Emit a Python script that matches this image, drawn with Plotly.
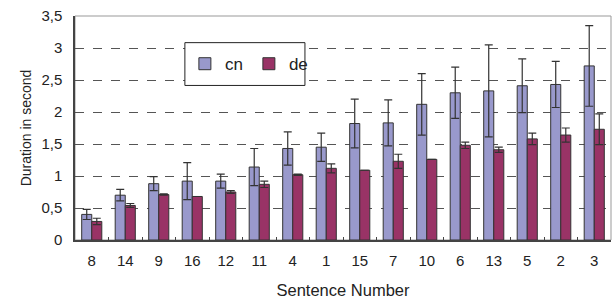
import plotly.graph_objects as go

sentences = ["8", "14", "9", "16", "12", "11", "4", "1", "15", "7", "10", "6", "13", "5", "2", "3"]
cn_mean = [0.40, 0.70, 0.88, 0.92, 0.92, 1.14, 1.43, 1.45, 1.82, 1.83, 2.12, 2.30, 2.33, 2.41, 2.43, 2.72]
cn_err = [0.08, 0.09, 0.11, 0.29, 0.11, 0.29, 0.26, 0.22, 0.38, 0.36, 0.48, 0.40, 0.72, 0.42, 0.36, 0.63]
de_mean = [0.29, 0.54, 0.71, 0.68, 0.75, 0.87, 1.02, 1.12, 1.09, 1.23, 1.26, 1.48, 1.41, 1.58, 1.64, 1.73]
de_err = [0.05, 0.03, 0.01, 0.0, 0.02, 0.05, 0.01, 0.07, 0.0, 0.11, 0.0, 0.05, 0.04, 0.09, 0.11, 0.24]

font = "Liberation Sans, Arial, sans-serif"

fig = go.Figure()
fig.add_trace(go.Bar(
    x=sentences, y=cn_mean, name="cn",
    marker=dict(color="#9999cc", line=dict(color="#333333", width=1)),
    error_y=dict(type="data", array=cn_err, visible=True, color="#333333", thickness=1.2, width=4),
))
fig.add_trace(go.Bar(
    x=sentences, y=de_mean, name="de",
    marker=dict(color="#993366", line=dict(color="#333333", width=1)),
    error_y=dict(type="data", array=de_err, visible=True, color="#333333", thickness=1.2, width=4),
))

fig.update_layout(
    width=614, height=300,
    margin=dict(l=75, r=3, t=16, b=60),
    paper_bgcolor="white", plot_bgcolor="white",
    barmode="group", bargap=0.4, bargroupgap=0,
    separators=",.",
    font=dict(family=font, size=15, color="#222222"),
    showlegend=True,
    legend=dict(
        orientation="h", x=0.205, y=0.785, xanchor="left", yanchor="middle",
        bgcolor="rgba(0,0,0,0)", borderwidth=0,
        font=dict(size=17, color="#222222"),
        itemwidth=30, entrywidth=19, tracegroupgap=0,
    ),
    xaxis=dict(
        title=dict(text="Sentence Number", font=dict(size=16.5), standoff=16),
        type="category", showline=True, linecolor="#444444", linewidth=2,
        ticks="inside", tickson="boundaries", ticklen=3, tickcolor="#444444",
        showgrid=False, tickfont=dict(size=15), ticklabelstandoff=6,
    ),
    yaxis=dict(
        title=dict(text="Duration in second", font=dict(size=14), standoff=6),
        range=[0, 3.5], dtick=0.5, showline=True, linecolor="#444444", linewidth=1.5,
        showgrid=True, gridcolor="#555555", griddash="dash", gridwidth=1,
        zeroline=False, ticks="", tickfont=dict(size=15), ticklabelstandoff=8,
    ),
    shapes=[
        dict(type="rect", xref="paper", yref="paper", x0=0, x1=1, y0=0, y1=1,
             line=dict(color="#999999", width=1), layer="below"),
        dict(type="rect", xref="paper", yref="paper", x0=0.205, x1=0.429, y0=0.690, y1=0.881,
             line=dict(color="#222222", width=1), fillcolor="white", layer="above"),
    ],
)

fig.write_html("out.html", config={"displayModeBar": False},
               post_script="document.body.style.margin='0';")
